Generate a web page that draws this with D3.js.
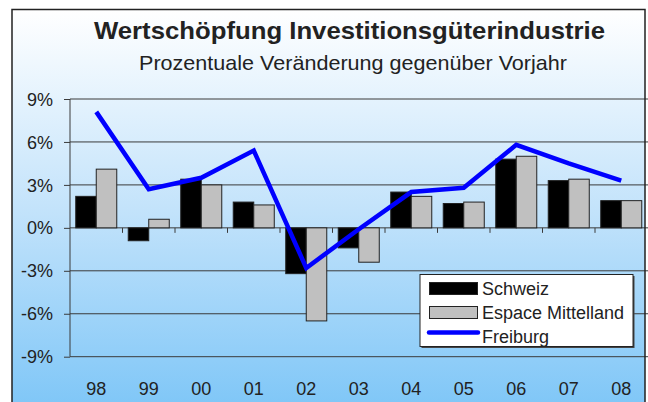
<!DOCTYPE html>
<html>
<head>
<meta charset="utf-8">
<script src="https://cdn.jsdelivr.net/npm/d3@7/dist/d3.min.js"></script>
<style>
  html, body { margin: 0; padding: 0; background: #fff; }
  svg { display: block; font-family: Arial, "Liberation Sans", sans-serif; }
</style>
</head>
<body>
<svg id="chart" width="648" height="402"></svg>
<script>
// Chart data
var years = ["98", "99", "00", "01", "02", "03", "04", "05", "06", "07", "08"];
var series = ["Schweiz", "Espace Mittelland"];
var schweiz = [2.2, -0.9, 3.4, 1.8, -3.2, -1.4, 2.5, 1.7, 4.8, 3.3, 1.9];
var espace = [4.1, 0.6, 3.0, 1.6, -6.5, -2.4, 2.2, 1.8, 5.0, 3.4, 1.9];
var freiburg = [8.1, 2.7, 3.5, 5.4, -2.8, -0.1, 2.5, 2.8, 5.8, 4.5, 3.3];
var yTicks = [-9, -6, -3, 0, 3, 6, 9];

var title = "Wertschöpfung Investitionsgüterindustrie";
var subtitle = "Prozentuale Veränderung gegenüber Vorjahr";

var svg = d3.select("#chart");

// Layout
var m = { left: 70, right: 647.5, top: 99, bottom: 356.7 };

// Background gradient
var defs = svg.append("defs");
var grad = defs.append("linearGradient")
  .attr("id", "bg")
  .attr("x1", 0).attr("y1", 0).attr("x2", 0).attr("y2", 1);
grad.append("stop").attr("offset", "0%").attr("stop-color", "#ffffff");
grad.append("stop").attr("offset", "50%").attr("stop-color", "#c3e3fb");
grad.append("stop").attr("offset", "100%").attr("stop-color", "#7ec6f7");

svg.append("rect")
  .attr("x", 12).attr("y", 9.5)
  .attr("width", 633).attr("height", 400)
  .style("fill", "url(#bg)");

// Scales
var x = d3.scaleBand()
  .domain(years)
  .range([m.left, m.right]);

var x1 = d3.scaleBand()
  .domain(series)
  .range([0, x.bandwidth()])
  .paddingOuter(0.28);

var y = d3.scaleLinear()
  .domain([-9, 9])
  .range([m.bottom, m.top]);

// Grid lines
svg.append("g")
  .attr("class", "grid")
  .selectAll("line")
  .data(yTicks)
  .enter().append("line")
  .attr("x1", m.left).attr("x2", 648)
  .attr("y1", function(d) { return y(d); })
  .attr("y2", function(d) { return y(d); })
  .style("stroke", "#3a3a3a")
  .style("stroke-width", 1);

// Y axis
var yAxis = d3.axisLeft(y)
  .tickValues(yTicks)
  .tickSize(6)
  .tickPadding(11)
  .tickFormat(function(d) { return d + "%"; });

var gy = svg.append("g")
  .attr("transform", "translate(" + m.left + ",0)")
  .call(yAxis);
gy.select(".domain").remove();
gy.selectAll(".tick line").style("stroke", "#3a3a3a");
gy.selectAll(".tick text")
  .style("font-size", "18px")
  .style("fill", "#222")
  .attr("dy", "0.34em");
gy.append("line")
  .attr("x1", 0).attr("x2", 0)
  .attr("y1", m.top).attr("y2", m.bottom)
  .style("stroke", "#3a3a3a");

// X axis ticks at zero line
var gx = svg.append("g")
  .attr("transform", "translate(0," + y(0) + ")");
gx.selectAll("line.tick")
  .data(years.slice(1))
  .enter().append("line")
  .attr("class", "tick")
  .attr("x1", function(d) { return x(d); })
  .attr("x2", function(d) { return x(d); })
  .attr("y1", 0).attr("y2", 5)
  .style("stroke", "#3a3a3a");

// X labels at the bottom
svg.append("g")
  .selectAll("text")
  .data(years)
  .enter().append("text")
  .attr("x", function(d) { return x(d) + x.bandwidth() / 2; })
  .attr("y", 395)
  .attr("text-anchor", "middle")
  .style("font-size", "18px")
  .style("fill", "#222")
  .text(function(d) { return d; });

// Bars
var rows = years.map(function(yr, i) {
  return { year: yr, vals: [{ s: series[0], v: schweiz[i] }, { s: series[1], v: espace[i] }] };
});
var fills = { "Schweiz": "#000000", "Espace Mittelland": "#c0c0c0" };

svg.append("g")
  .selectAll("g")
  .data(rows)
  .enter().append("g")
  .attr("transform", function(d) { return "translate(" + x(d.year) + ",0)"; })
  .selectAll("rect")
  .data(function(d) { return d.vals; })
  .enter().append("rect")
  .attr("x", function(d) { return x1(d.s); })
  .attr("width", x1.bandwidth())
  .attr("y", function(d) { return y(Math.max(0, d.v)); })
  .attr("height", function(d) { return Math.abs(y(d.v) - y(0)); })
  .style("fill", function(d) { return fills[d.s]; })
  .style("stroke", "#222")
  .style("stroke-width", 1);

// Freiburg line
var line = d3.line()
  .x(function(d, i) { return x(years[i]) + x.bandwidth() / 2; })
  .y(function(d) { return y(d); });

svg.append("path")
  .datum(freiburg)
  .attr("d", line)
  .style("fill", "none")
  .style("stroke", "#0000ff")
  .style("stroke-width", 4.5)
  .style("stroke-linejoin", "miter");

// Title
svg.append("text")
  .attr("x", 94).attr("y", 39)
  .attr("textLength", 511)
  .attr("lengthAdjust", "spacingAndGlyphs")
  .style("font-size", "24px")
  .style("font-weight", "bold")
  .style("fill", "#222")
  .text(title);

svg.append("text")
  .attr("x", 139).attr("y", 70)
  .attr("textLength", 428)
  .attr("lengthAdjust", "spacingAndGlyphs")
  .style("font-size", "21px")
  .style("fill", "#222")
  .text(subtitle);

// Legend
var lg = svg.append("g").attr("transform", "translate(420,274.5)");
lg.append("rect")
  .attr("x", 1.5).attr("y", 1.5)
  .attr("width", 213).attr("height", 72)
  .style("fill", "#444");
lg.append("rect")
  .attr("width", 213).attr("height", 72)
  .style("fill", "#fff")
  .style("stroke", "#222")
  .style("stroke-width", 1);

var legendItems = [
  { name: "Schweiz", type: "bar", fill: "#000000" },
  { name: "Espace Mittelland", type: "bar", fill: "#c0c0c0" },
  { name: "Freiburg", type: "line", fill: "#0000ff" }
];

var li = lg.selectAll("g.item")
  .data(legendItems)
  .enter().append("g")
  .attr("class", "item")
  .attr("transform", function(d, i) { return "translate(0," + (i * 24) + ")"; });

li.filter(function(d) { return d.type == "bar"; })
  .append("rect")
  .attr("x", 9.5).attr("y", 8)
  .attr("width", 48).attr("height", 12)
  .style("fill", function(d) { return d.fill; })
  .style("stroke", "#222")
  .style("stroke-width", 1);

li.filter(function(d) { return d.type == "line"; })
  .append("line")
  .attr("x1", 9).attr("x2", 58)
  .attr("y1", 10).attr("y2", 10)
  .style("stroke", function(d) { return d.fill; })
  .style("stroke-width", 4.5)
  .style("stroke-linecap", "round");

li.append("text")
  .attr("x", 62).attr("y", 20)
  .style("font-size", "18px")
  .style("fill", "#222")
  .text(function(d) { return d.name; });

// Outer border
svg.append("path")
  .attr("d", "M12,402 L12,9.5 L645,9.5 L645,402")
  .style("fill", "none")
  .style("stroke", "#222")
  .style("stroke-width", 1.5);
</script>
</body>
</html>
